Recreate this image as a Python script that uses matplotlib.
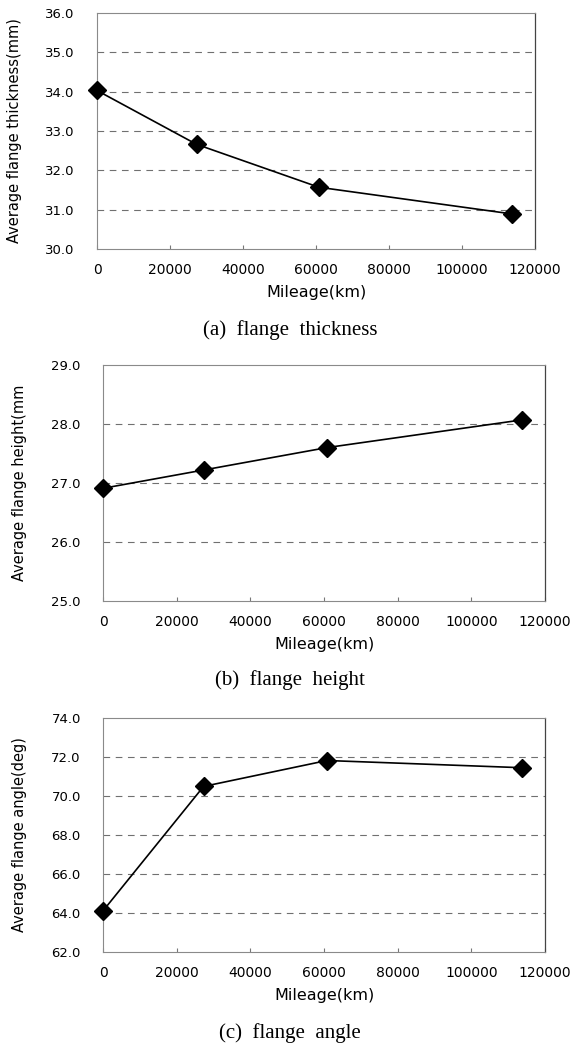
import matplotlib
matplotlib.use('Agg')
import matplotlib.pyplot as plt
from matplotlib.ticker import FormatStrFormatter

# Data
mileage = [0, 27300, 60800, 113800]
thickness = [34.03, 32.66, 31.57, 30.89]
height = [26.91, 27.22, 27.60, 28.07]
angle = [64.11, 70.49, 71.82, 71.45]

x_ticks = [0, 20000, 40000, 60000, 80000, 100000, 120000]

panels = [
    # (values, ylabel, caption, y range, y step, axes rect)
    (thickness, 'Average flange thickness(mm)', '(a)  flange  thickness', (30, 36), 1.0,
     [97 / 571, 1 - 249 / 1046, 438 / 571, 236 / 1046]),
    (height, 'Average flange height(mm', '(b)  flange  height', (25, 29), 1.0,
     [103 / 571, 1 - 601 / 1046, 442 / 571, 236 / 1046]),
    (angle, 'Average flange angle(deg)', '(c)  flange  angle', (62, 74), 2.0,
     [103 / 571, 1 - 952 / 1046, 442 / 571, 234 / 1046]),
]
caption_y = [1 - 330 / 1046, 1 - 680 / 1046, 1 - 1033 / 1046]

fig = plt.figure(figsize=(5.71, 10.46), dpi=100)

for i, (vals, ylab, cap, yr, step, rect) in enumerate(panels):
    ax = fig.add_axes(rect)
    ax.plot(mileage, vals, color='black', linewidth=1.2, marker='D', clip_on=False,
            markersize=9.5, markerfacecolor='black', markeredgecolor='black', zorder=3)
    ax.set_xlim(0, 120000)
    ax.set_ylim(yr[0], yr[1])
    ax.set_xticks(x_ticks)
    yt = [yr[0] + k * step for k in range(int(round((yr[1] - yr[0]) / step)) + 1)]
    ax.set_yticks(yt)
    ax.yaxis.set_major_formatter(FormatStrFormatter('%.1f'))

    # dashed horizontal grid
    for y in yt[1:-1]:
        ax.axhline(y, color='#707070', linewidth=0.8, linestyle=(0, (6, 5)), zorder=1)

    for side in ['top', 'left', 'bottom']:
        ax.spines[side].set_color('#8a8a8a')
        ax.spines[side].set_linewidth(0.8)
    ax.spines['right'].set_color('#444444')
    ax.spines['right'].set_linewidth(0.9)

    ax.tick_params(axis='x', direction='in', length=3, color='#777777', pad=10, labelsize=10)
    ax.tick_params(axis='y', length=0, pad=16, labelsize=9.5)

    ax.set_xlabel('Mileage(km)', fontsize=11.5, labelpad=6)
    ax.set_ylabel(ylab, fontsize=10.5)
    ax.yaxis.set_label_coords(-0.172, 0.5)

    fig.text(290 / 571, caption_y[i], cap, ha='center', va='center',
             fontsize=15, family='Liberation Serif')

fig.savefig('out.png', dpi=100)
